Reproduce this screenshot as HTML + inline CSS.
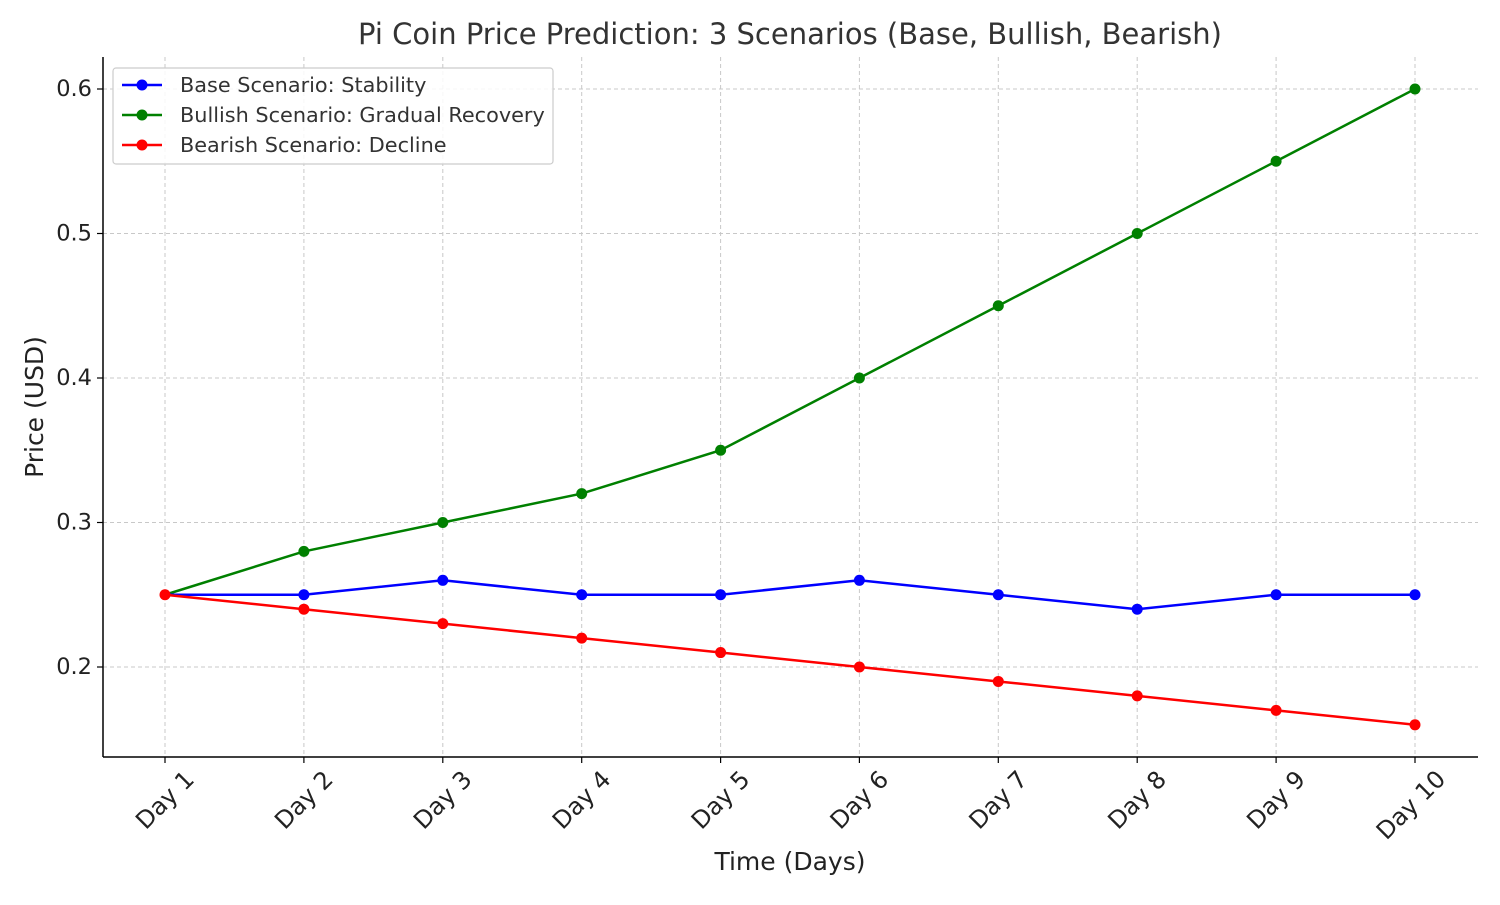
<!DOCTYPE html>
<html><head><meta charset="utf-8"><style>body{margin:0;background:#fff}</style></head>
<body>
<svg width="1500" height="900" xmlns="http://www.w3.org/2000/svg" font-family="DejaVu Sans, Liberation Sans, sans-serif">
<rect width="1500" height="900" fill="#fff"/>
<g stroke="#c8c8c8" stroke-width="1" stroke-dasharray="4,3">
<line x1="165" y1="57" x2="165" y2="757"/><line x1="303.9" y1="57" x2="303.9" y2="757"/><line x1="442.8" y1="57" x2="442.8" y2="757"/><line x1="581.7" y1="57" x2="581.7" y2="757"/><line x1="720.6" y1="57" x2="720.6" y2="757"/><line x1="859.4" y1="57" x2="859.4" y2="757"/><line x1="998.3" y1="57" x2="998.3" y2="757"/><line x1="1137.2" y1="57" x2="1137.2" y2="757"/><line x1="1276.1" y1="57" x2="1276.1" y2="757"/><line x1="1415" y1="57" x2="1415" y2="757"/>
<line x1="103" y1="89" x2="1478" y2="89"/><line x1="103" y1="233.5" x2="1478" y2="233.5"/><line x1="103" y1="378" x2="1478" y2="378"/><line x1="103" y1="522.5" x2="1478" y2="522.5"/><line x1="103" y1="667" x2="1478" y2="667"/>
</g>
<g stroke="#000" stroke-width="1.5" fill="none">
<line x1="103" y1="57" x2="103" y2="757"/><line x1="103" y1="757" x2="1478" y2="757"/>
</g>
<g stroke="#000" stroke-width="1.2">
<line x1="165" y1="757" x2="165" y2="763"/><line x1="303.9" y1="757" x2="303.9" y2="763"/><line x1="442.8" y1="757" x2="442.8" y2="763"/><line x1="581.7" y1="757" x2="581.7" y2="763"/><line x1="720.6" y1="757" x2="720.6" y2="763"/><line x1="859.4" y1="757" x2="859.4" y2="763"/><line x1="998.3" y1="757" x2="998.3" y2="763"/><line x1="1137.2" y1="757" x2="1137.2" y2="763"/><line x1="1276.1" y1="757" x2="1276.1" y2="763"/><line x1="1415" y1="757" x2="1415" y2="763"/>
<line x1="97" y1="89" x2="103" y2="89"/><line x1="97" y1="233.5" x2="103" y2="233.5"/><line x1="97" y1="378" x2="103" y2="378"/><line x1="97" y1="522.5" x2="103" y2="522.5"/><line x1="97" y1="667" x2="103" y2="667"/>
</g>
<g font-size="22.5" fill="#222" text-anchor="end" dominant-baseline="central">
<text x="92" y="89">0.6</text><text x="92" y="233.5">0.5</text><text x="92" y="378">0.4</text><text x="92" y="522.5">0.3</text><text x="92" y="667">0.2</text>
</g>
<g font-size="24" fill="#222" text-anchor="middle" dominant-baseline="central">
<text transform="translate(165,800) rotate(-45)">Day 1</text>
<text transform="translate(303.9,800) rotate(-45)">Day 2</text>
<text transform="translate(442.8,800) rotate(-45)">Day 3</text>
<text transform="translate(581.7,800) rotate(-45)">Day 4</text>
<text transform="translate(720.6,800) rotate(-45)">Day 5</text>
<text transform="translate(859.4,800) rotate(-45)">Day 6</text>
<text transform="translate(998.3,800) rotate(-45)">Day 7</text>
<text transform="translate(1137.2,800) rotate(-45)">Day 8</text>
<text transform="translate(1276.1,800) rotate(-45)">Day 9</text>
<text transform="translate(1411,805) rotate(-45)">Day 10</text>
</g>
<text x="790" y="870" font-size="25" fill="#222" text-anchor="middle">Time (Days)</text>
<text transform="translate(43,407) rotate(-90)" font-size="25" fill="#222" text-anchor="middle">Price (USD)</text>
<text x="790" y="44" font-size="29" fill="#333" text-anchor="middle">Pi Coin Price Prediction: 3 Scenarios (Base, Bullish, Bearish)</text>
<g stroke-width="2.5" fill="none">
<polyline stroke="#008000" points="165,594.75 303.9,551.4 442.8,522.5 581.7,493.6 720.6,450.25 859.4,378 998.3,305.75 1137.2,233.5 1276.1,161.25 1415,89"/>
<polyline stroke="#0000ff" points="165,594.75 303.9,594.75 442.8,580.3 581.7,594.75 720.6,594.75 859.4,580.3 998.3,594.75 1137.2,609.2 1276.1,594.75 1415,594.75"/>
<polyline stroke="#ff0000" points="165,594.75 303.9,609.2 442.8,623.65 581.7,638.1 720.6,652.55 859.4,667 998.3,681.45 1137.2,695.9 1276.1,710.35 1415,724.8"/>
</g>
<g fill="#008000"><circle cx="303.9" cy="551.4" r="5.5"/><circle cx="442.8" cy="522.5" r="5.5"/><circle cx="581.7" cy="493.6" r="5.5"/><circle cx="720.6" cy="450.25" r="5.5"/><circle cx="859.4" cy="378" r="5.5"/><circle cx="998.3" cy="305.75" r="5.5"/><circle cx="1137.2" cy="233.5" r="5.5"/><circle cx="1276.1" cy="161.25" r="5.5"/><circle cx="1415" cy="89" r="5.5"/></g>
<g fill="#0000ff"><circle cx="303.9" cy="594.75" r="5.5"/><circle cx="442.8" cy="580.3" r="5.5"/><circle cx="581.7" cy="594.75" r="5.5"/><circle cx="720.6" cy="594.75" r="5.5"/><circle cx="859.4" cy="580.3" r="5.5"/><circle cx="998.3" cy="594.75" r="5.5"/><circle cx="1137.2" cy="609.2" r="5.5"/><circle cx="1276.1" cy="594.75" r="5.5"/><circle cx="1415" cy="594.75" r="5.5"/></g>
<g fill="#ff0000"><circle cx="165" cy="594.75" r="5.5"/><circle cx="303.9" cy="609.2" r="5.5"/><circle cx="442.8" cy="623.65" r="5.5"/><circle cx="581.7" cy="638.1" r="5.5"/><circle cx="720.6" cy="652.55" r="5.5"/><circle cx="859.4" cy="667" r="5.5"/><circle cx="998.3" cy="681.45" r="5.5"/><circle cx="1137.2" cy="695.9" r="5.5"/><circle cx="1276.1" cy="710.35" r="5.5"/><circle cx="1415" cy="724.8" r="5.5"/></g>
<rect x="113" y="68" width="440" height="96" rx="3" fill="#fff" fill-opacity="0.85" stroke="#ccc" stroke-width="1.2"/>
<g stroke-width="2.5"><line x1="122" y1="85" x2="162" y2="85" stroke="#0000ff"/><line x1="122" y1="115" x2="162" y2="115" stroke="#008000"/><line x1="122" y1="145" x2="162" y2="145" stroke="#ff0000"/></g>
<circle cx="142" cy="85" r="5.5" fill="#0000ff"/><circle cx="142" cy="115" r="5.5" fill="#008000"/><circle cx="142" cy="145" r="5.5" fill="#ff0000"/>
<g font-size="20.8" fill="#333" dominant-baseline="central">
<text x="180" y="85">Base Scenario: Stability</text><text x="180" y="115">Bullish Scenario: Gradual Recovery</text><text x="180" y="145">Bearish Scenario: Decline</text>
</g>
</svg>
</body></html>
